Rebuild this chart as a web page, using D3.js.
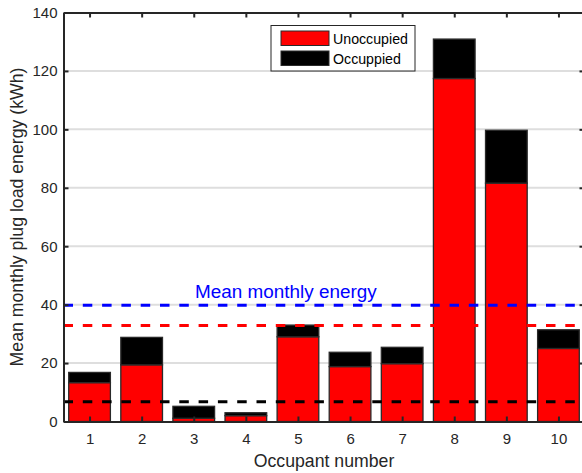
<!DOCTYPE html>
<html>
<head>
<meta charset="utf-8">
<script src="https://cdn.jsdelivr.net/npm/d3@7"></script>
<style>
  body { margin: 0; background: #fff; }
  text { font-family: "Liberation Sans", Arial, sans-serif; }
</style>
</head>
<body>
<div id="chart"></div>
<script>
// values
var occupants = [1, 2, 3, 4, 5, 6, 7, 8, 9, 10];
var unoccupied = [13.3, 19.4, 1.1, 2.0, 29.0, 18.8, 19.8, 117.4, 81.6, 25.0];
var occupied = [3.5, 9.4, 4.1, 1.0, 4.0, 4.9, 5.6, 13.5, 18.1, 6.4];
var meanValues = [39.8, 32.9, 6.8];
var meanColors = ["#0000ff", "#ff0000", "#000000"];
var yTicks = [0, 20, 40, 60, 80, 100, 120, 140];
var seriesNames = ["Unoccupied", "Occuppied"];
var seriesColors = ["#ff0000", "#000000"];

var width = 582, height = 473;
var plot = { left: 63.5, right: 584.5, top: 12.5, bottom: 421.5 };

var svg = d3.select("#chart").append("svg")
  .attr("width", width)
  .attr("height", height);

var x = d3.scaleLinear().domain([0.5, 10.5]).range([plot.left, plot.right]);
var y = d3.scaleLinear().domain([0, 140]).range([plot.bottom, plot.top]);

// grid
svg.append("g")
  .selectAll("line")
  .data(yTicks.filter(function (d) { return d > 0 && d < 140; }))
  .enter().append("line")
  .attr("x1", plot.left).attr("x2", plot.right)
  .attr("y1", function (d) { return y(d); })
  .attr("y2", function (d) { return y(d); })
  .style("stroke", "#dedede")
  .style("stroke-width", 2);

// stacked bars
var rows = occupants.map(function (o, i) {
  return { occ: o, Unoccupied: unoccupied[i], Occuppied: occupied[i] };
});
var stacked = d3.stack().keys(seriesNames)(rows);
var barW = x(0.8) - x(0);

svg.append("g")
  .selectAll("g")
  .data(stacked)
  .enter().append("g")
  .style("fill", function (d, i) { return seriesColors[i]; })
  .selectAll("rect")
  .data(function (d) { return d; })
  .enter().append("rect")
  .attr("x", function (d) { return x(d.data.occ) - barW / 2; })
  .attr("width", barW)
  .attr("y", function (d) { return y(d[1]); })
  .attr("height", function (d) { return y(d[0]) - y(d[1]); })
  .style("stroke", "#2a2a2a")
  .style("stroke-width", 1.3);

// mean lines
svg.append("g")
  .selectAll("line")
  .data(meanValues)
  .enter().append("line")
  .attr("x1", plot.left).attr("x2", plot.right)
  .attr("y1", function (d) { return y(d); })
  .attr("y2", function (d) { return y(d); })
  .style("stroke", function (d, i) { return meanColors[i]; })
  .style("stroke-width", 3)
  .style("stroke-dasharray", "9.5,9.8");

svg.append("text")
  .attr("x", 195)
  .attr("y", y(meanValues[0]) - 7)
  .text("Mean monthly energy")
  .style("fill", "#0000ff")
  .style("font-size", "18.9px");

// axes
var axisColor = "#262626";
function styleAxis(g) {
  g.select(".domain").style("stroke", axisColor).style("stroke-width", 2);
  g.selectAll(".tick line").style("stroke", axisColor).style("stroke-width", 2);
  g.selectAll(".tick text").style("fill", axisColor).style("font-size", "15px")
    .style("font-family", "'Liberation Sans', Arial, sans-serif");
}

svg.append("g")
  .attr("transform", "translate(" + plot.left + ",0)")
  .call(d3.axisLeft(y).tickValues(yTicks).tickSize(-5).tickSizeOuter(0).tickPadding(6))
  .call(styleAxis);

svg.append("g")
  .attr("transform", "translate(" + plot.right + ",0)")
  .call(d3.axisRight(y).tickValues(yTicks).tickSize(-5).tickSizeOuter(0).tickFormat(""))
  .call(styleAxis);

svg.append("g")
  .attr("transform", "translate(0," + plot.bottom + ")")
  .call(d3.axisBottom(x).tickValues(occupants).tickSize(-5).tickSizeOuter(0).tickPadding(12))
  .call(styleAxis);

svg.append("g")
  .attr("transform", "translate(0," + plot.top + ")")
  .call(d3.axisTop(x).tickValues(occupants).tickSize(-5).tickSizeOuter(0).tickFormat(""))
  .call(styleAxis);

// axis labels
svg.append("text")
  .attr("x", (plot.left + plot.right) / 2)
  .attr("y", 466.5)
  .attr("text-anchor", "middle")
  .text("Occupant number")
  .style("fill", axisColor)
  .style("font-size", "17.7px");

svg.append("text")
  .attr("transform", "translate(23," + ((plot.top + plot.bottom) / 2) + ") rotate(-90)")
  .attr("text-anchor", "middle")
  .text("Mean monthly plug load energy (kWh)")
  .style("fill", axisColor)
  .style("font-size", "17.7px");

// legend
var legend = svg.append("g");
legend.append("rect")
  .attr("x", 271).attr("y", 25.5)
  .attr("width", 144).attr("height", 45.5)
  .style("fill", "#fff")
  .style("stroke", "#262626")
  .style("stroke-width", 1);

var items = legend.selectAll("g.item")
  .data(seriesNames)
  .enter().append("g")
  .attr("class", "item")
  .attr("transform", function (d, i) { return "translate(0," + (i * 20) + ")"; });

items.append("rect")
  .attr("x", 281).attr("y", 31)
  .attr("width", 48).attr("height", 14.5)
  .style("fill", function (d, i) { return seriesColors[i]; })
  .style("stroke", "#2a2a2a")
  .style("stroke-width", 1);

items.append("text")
  .attr("x", 333).attr("y", 43.5)
  .text(function (d) { return d; })
  .style("fill", "#000")
  .style("font-size", "14.2px");
</script>
</body>
</html>
